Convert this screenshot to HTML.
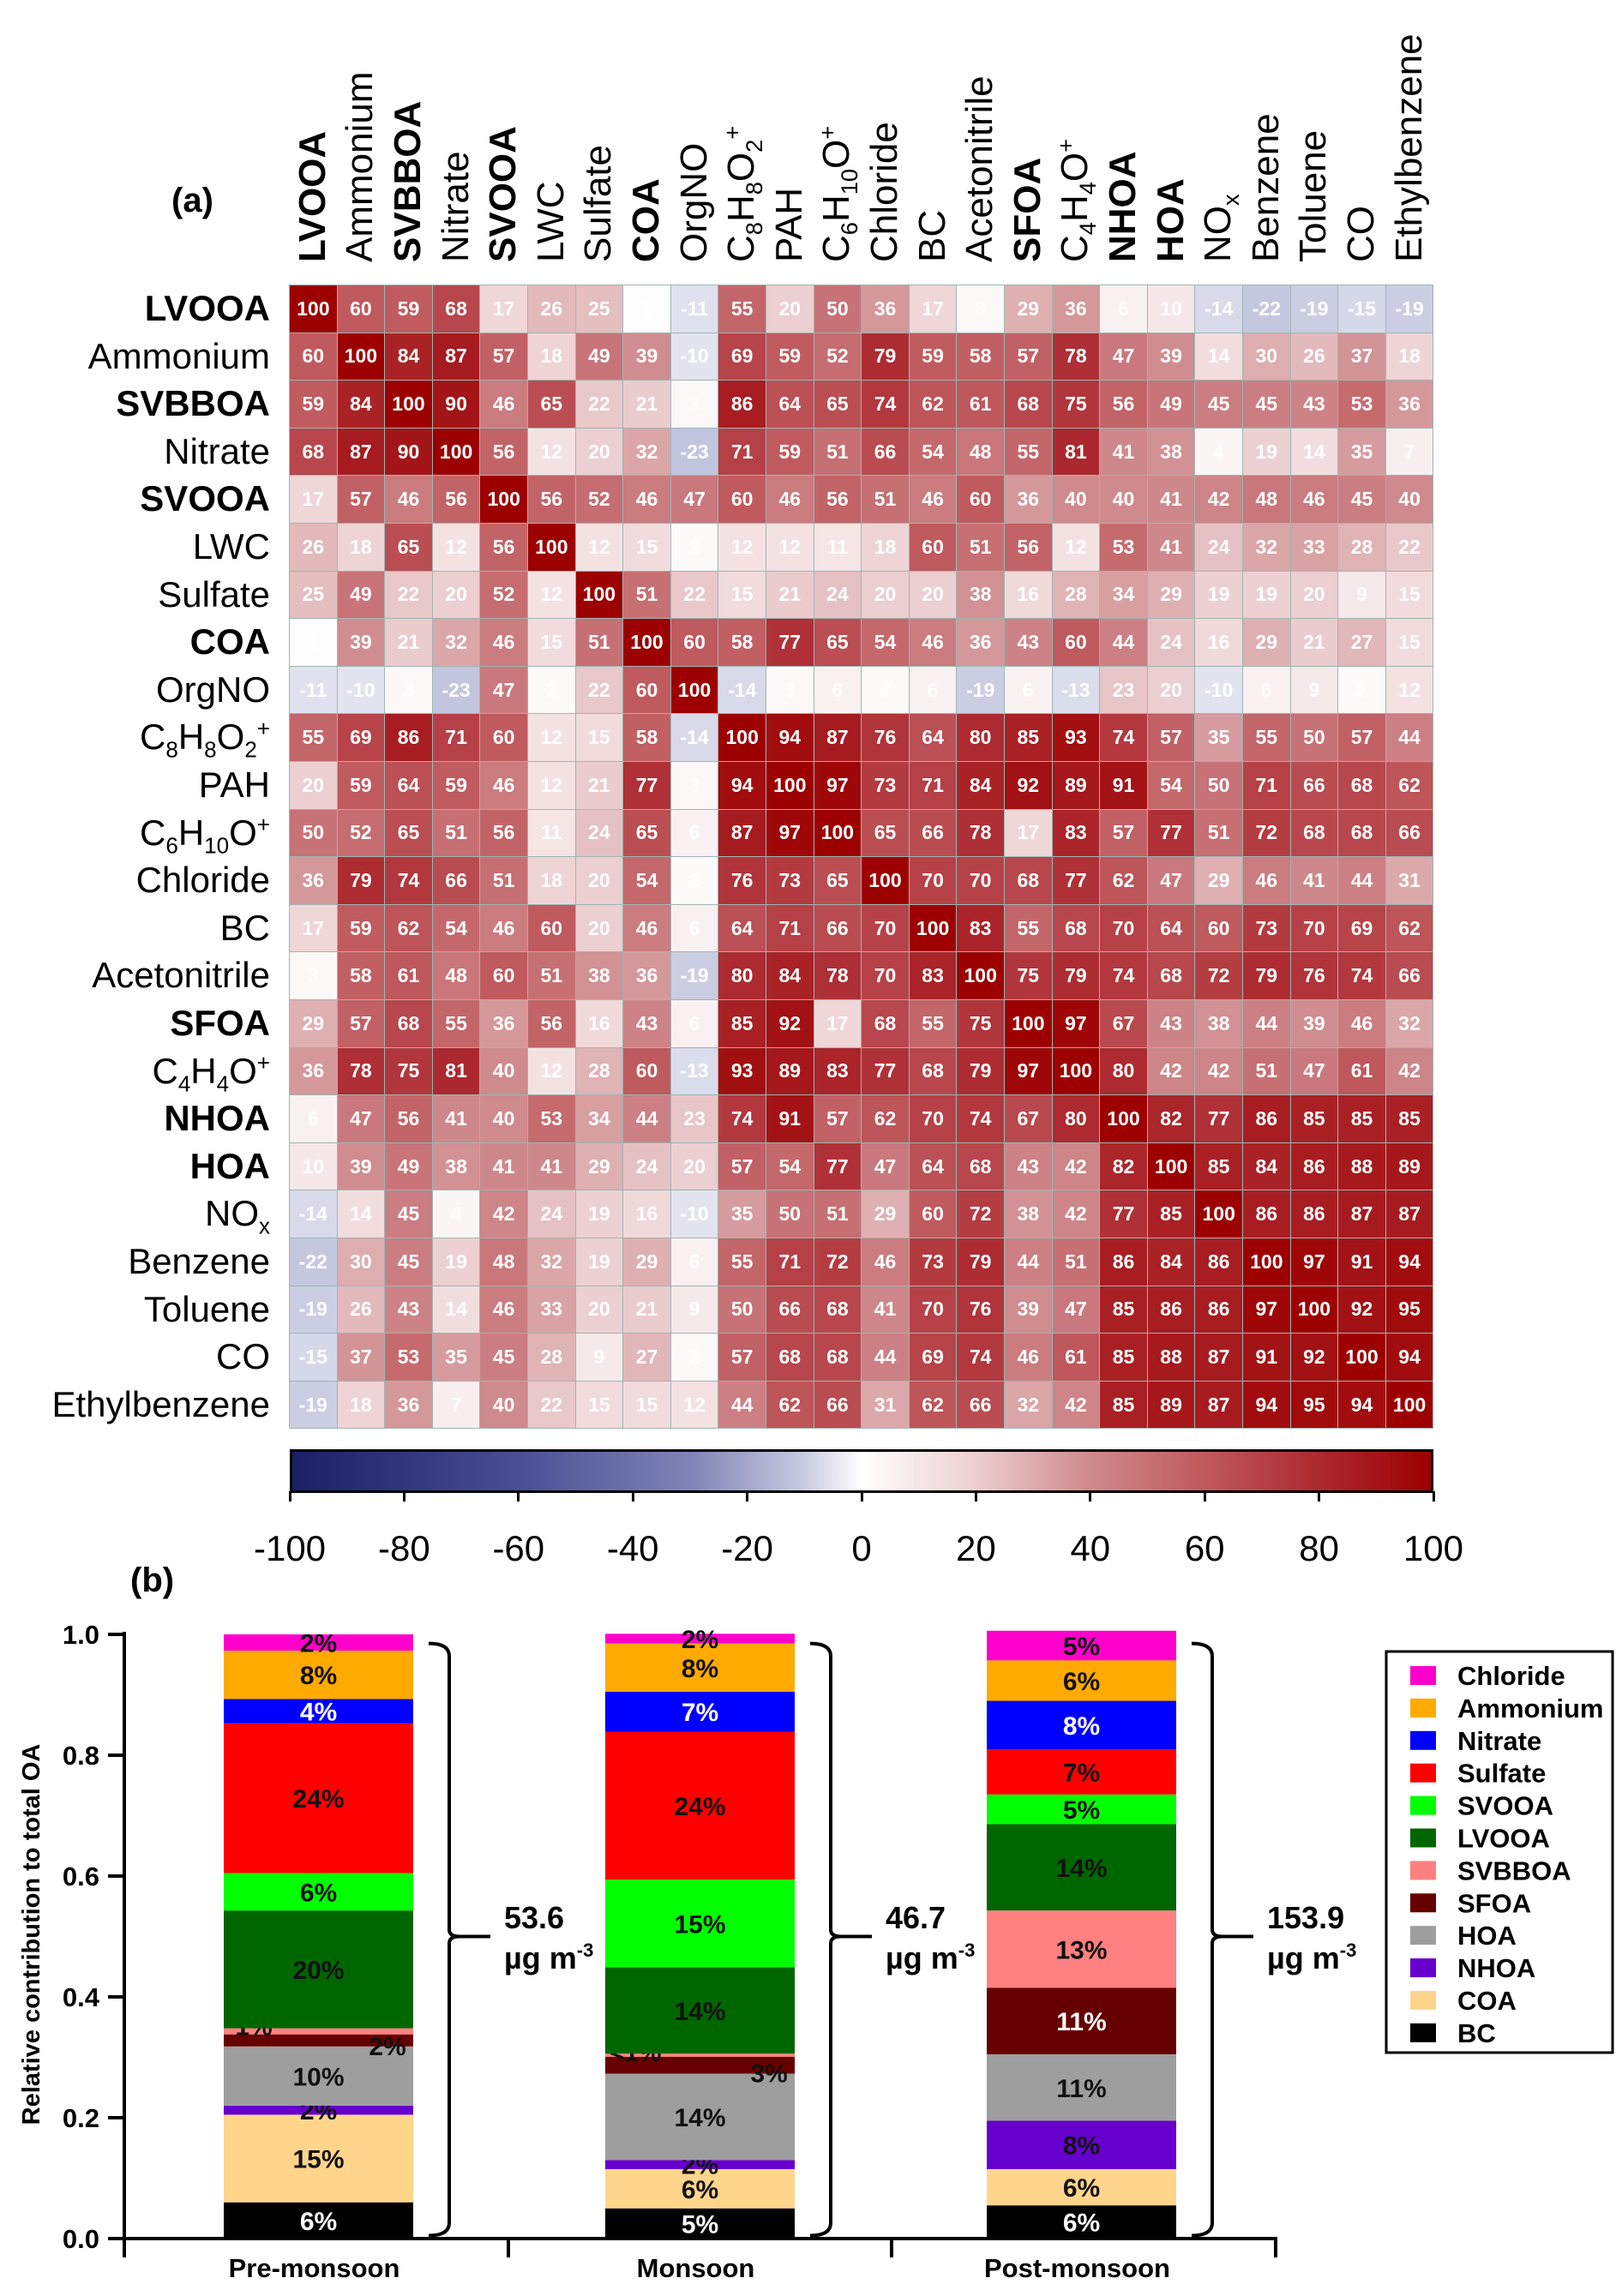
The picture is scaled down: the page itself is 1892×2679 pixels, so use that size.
<!DOCTYPE html>
<html><head><meta charset="utf-8">
<style>
html,body{margin:0;padding:0;background:#fff;}
body{width:1892px;height:2679px;position:relative;overflow:hidden;font-family:"Liberation Sans",Arial,sans-serif;}
.abs{position:absolute;}
.rowlab{position:absolute;right:1577px;font-size:42px;line-height:56px;white-space:nowrap;color:#000;text-align:right;}
.collab{position:absolute;font-size:44px;white-space:nowrap;color:#000;transform-origin:0 0;transform:rotate(-90deg);line-height:50px;}
.b{font-weight:bold;}
.cell{position:absolute;box-sizing:border-box;border:1.5px solid #9fb5b2;color:#fff;font-weight:bold;font-size:23px;display:flex;align-items:center;justify-content:center;font-family:"Liberation Sans Narrow","Liberation Sans",sans-serif;}
sub,sup{font-size:62%;line-height:0;}
</style></head>
<body>
<div class="abs b" style="left:200px;top:212px;font-size:40px;">(a)</div>
<div id="hm"></div>
<div class="abs" style="left:338px;top:1691px;width:1334px;height:51px;box-sizing:border-box;border:3px solid #000;background:linear-gradient(to right,#1a1f66 0%,#4a4f94 20%,#8084b6 35%,#c9cbe0 45%,#ffffff 50%,#eccfd0 60%,#cf8a8d 70%,#bf5a5e 80%,#ac2a30 90%,#9c0000 100%);"></div>
<div id="cbt"></div>
<div class="abs b" style="left:152px;top:1822px;font-size:40px;">(b)</div>
<svg id="bars" class="abs" style="left:0;top:0" width="1892" height="2679"></svg>
<script>
const vars=["LVOOA","Ammonium","SVBBOA","Nitrate","SVOOA","LWC","Sulfate","COA","OrgNO","C<sub>8</sub>H<sub>8</sub>O<sub>2</sub><sup>+</sup>","PAH","C<sub>6</sub>H<sub>10</sub>O<sup>+</sup>","Chloride","BC","Acetonitrile","SFOA","C<sub>4</sub>H<sub>4</sub>O<sup>+</sup>","NHOA","HOA","NO<sub>x</sub>","Benzene","Toluene","CO","Ethylbenzene"];
const boldVars=["LVOOA","SVBBOA","SVOOA","COA","SFOA","NHOA","HOA"];
const corr=[
[100,60,59,68,17,26,25,1,-11,55,20,50,36,17,3,29,36,6,10,-14,-22,-19,-15,-19],
[60,100,84,87,57,18,49,39,-10,69,59,52,79,59,58,57,78,47,39,14,30,26,37,18],
[59,84,100,90,46,65,22,21,3,86,64,65,74,62,61,68,75,56,49,45,45,43,53,36],
[68,87,90,100,56,12,20,32,-23,71,59,51,66,54,48,55,81,41,38,4,19,14,35,7],
[17,57,46,56,100,56,52,46,47,60,46,56,51,46,60,36,40,40,41,42,48,46,45,40],
[26,18,65,12,56,100,12,15,2,12,12,11,18,60,51,56,12,53,41,24,32,33,28,22],
[25,49,22,20,52,12,100,51,22,15,21,24,20,20,38,16,28,34,29,19,19,20,9,15],
[1,39,21,32,46,15,51,100,60,58,77,65,54,46,36,43,60,44,24,16,29,21,27,15],
[-11,-10,3,-23,47,2,22,60,100,-14,3,6,2,6,-19,6,-13,23,20,-10,6,9,2,12],
[55,69,86,71,60,12,15,58,-14,100,94,87,76,64,80,85,93,74,57,35,55,50,57,44],
[20,59,64,59,46,12,21,77,3,94,100,97,73,71,84,92,89,91,54,50,71,66,68,62],
[50,52,65,51,56,11,24,65,6,87,97,100,65,66,78,17,83,57,77,51,72,68,68,66],
[36,79,74,66,51,18,20,54,2,76,73,65,100,70,70,68,77,62,47,29,46,41,44,31],
[17,59,62,54,46,60,20,46,6,64,71,66,70,100,83,55,68,70,64,60,73,70,69,62],
[3,58,61,48,60,51,38,36,-19,80,84,78,70,83,100,75,79,74,68,72,79,76,74,66],
[29,57,68,55,36,56,16,43,6,85,92,17,68,55,75,100,97,67,43,38,44,39,46,32],
[36,78,75,81,40,12,28,60,-13,93,89,83,77,68,79,97,100,80,42,42,51,47,61,42],
[6,47,56,41,40,53,34,44,23,74,91,57,62,70,74,67,80,100,82,77,86,85,85,85],
[10,39,49,38,41,41,29,24,20,57,54,77,47,64,68,43,42,82,100,85,84,86,88,89],
[-14,14,45,4,42,24,19,16,-10,35,50,51,29,60,72,38,42,77,85,100,86,86,87,87],
[-22,30,45,19,48,32,19,29,6,55,71,72,46,73,79,44,51,86,84,86,100,97,91,94],
[-19,26,43,14,46,33,20,21,9,50,66,68,41,70,76,39,47,85,86,86,97,100,92,95],
[-15,37,53,35,45,28,9,27,2,57,68,68,44,69,74,46,61,85,88,87,91,92,100,94],
[-19,18,36,7,40,22,15,15,12,44,62,66,31,62,66,32,42,85,89,87,94,95,94,100]];
const cbTicks=[-100,-80,-60,-40,-20,0,20,40,60,80,100];

const HX0=337,HY0=332,CW=55.6,CH=55.6;
const stops=[[-100,[26,31,102]],[-60,[74,79,148]],[-30,[178,182,212]],[-20,[200,204,226]],[-10,[226,228,239]],[0,[255,255,255]],[20,[236,207,208]],[40,[207,138,141]],[60,[191,90,94]],[80,[172,42,48]],[100,[156,0,0]]];
function col(v){for(let i=0;i<stops.length-1;i++){const a=stops[i],b=stops[i+1];if(v<=b[0]){const t=(v-a[0])/(b[0]-a[0]);const c=a[1].map((x,k)=>Math.round(x+(b[1][k]-x)*t));return `rgb(${c})`;}}return 'rgb(156,0,0)';}
const hm=document.getElementById('hm');
vars.forEach((n,i)=>{
  const plain=n.replace(/<[^>]+>/g,'');
  const r=document.createElement('div');r.className='rowlab'+(boldVars.includes(plain)?' b':'');
  r.style.top=(HY0+i*CH)+'px';r.innerHTML=n;
  
  
  hm.appendChild(r);
  const c=document.createElement('div');c.className='collab'+(boldVars.includes(plain)?' b':'');
  c.style.left=(HX0+i*CW+CW/2-25)+'px';c.style.top='306px';c.innerHTML=n;
  
  
  hm.appendChild(c);
});
corr.forEach((row,i)=>row.forEach((v,j)=>{
  const d=document.createElement('div');d.className='cell';
  d.style.left=(HX0+j*CW)+'px';d.style.top=(HY0+i*CH)+'px';d.style.width=(CW+1)+'px';d.style.height=(CH+1)+'px';
  d.style.background=col(v);d.textContent=v;
  
  
  hm.appendChild(d);
}));
const cbt=document.getElementById('cbt');
cbTicks.forEach(t=>{
  const x=338+(t+100)/200*1334;
  const tk=document.createElement('div');tk.className='abs';tk.style.cssText=`left:${x-1.5}px;top:1740px;width:3px;height:12px;background:#000;`;
  
  
  cbt.appendChild(tk);
  const l=document.createElement('div');l.className='abs';l.style.cssText=`left:${x-60}px;width:120px;text-align:center;top:1783px;font-size:42px;`;l.textContent=t;
  
  
  cbt.appendChild(l);
});
</script>
<script>
const seasons=["Pre-monsoon","Monsoon","Post-monsoon"];
const totals=["53.6","46.7","153.9"];
const components=["BC","COA","NHOA","HOA","SFOA","SVBBOA","LVOOA","SVOOA","Sulfate","Nitrate","Ammonium","Chloride"];
const compColors=["#000000","#ffd58c","#6600cc","#9e9e9e","#660000","#ff8080","#006600","#00ff00","#ff0000","#0000ff","#ffaa00","#ff00cc"];
const preVals=[6,14.5,1.5,9.8,2,1,19.5,6.2,24.8,4,8,2.7];
const monVals=[5,6.5,1.5,14.3,2.8,0.5,14.3,14.5,24.5,6.6,8,1.6];
const postVals=[5.5,6,8,11,11,12.8,14.3,4.9,7.5,8,6.7,4.9];
const preLabels=["6%","15%","2%","10%","2%","1%","20%","6%","24%","4%","8%","2%"];
const monLabels=["5%","6%","2%","14%","3%","<1%","14%","15%","24%","7%","8%","2%"];
const postLabels=["6%","6%","8%","11%","11%","13%","14%","5%","7%","8%","6%","5%"];
const yTicks=[0,0.2,0.4,0.6,0.8,1.0];
const allVals=[preVals,monVals,postVals],allLabels=[preLabels,monLabels,postLabels];
const legendOrder=["Chloride","Ammonium","Nitrate","Sulfate","SVOOA","LVOOA","SVBBOA","SFOA","HOA","NHOA","COA","BC"];

const svg=document.getElementById('bars');const NS='http://www.w3.org/2000/svg';
const Y0=2612,Y1=1907;const yS=v=>Y0-(v)*(Y0-Y1);
const barX=[261,706,1151],BW=221;
function el(t,a,txt){const e=document.createElementNS(NS,t);for(const k in a)e.setAttribute(k,a[k]);if(txt!=null)e.textContent=txt;svg.appendChild(e);return e;}
const F='"Liberation Sans Narrow","Liberation Sans",sans-serif';
let ax=el('line',{x1:145,y1:Y1-3,x2:145,y2:Y0+2,stroke:'#000','stroke-width':4});


let xa=el('line',{x1:143,y1:Y0,x2:1490,y2:Y0,stroke:'#000','stroke-width':4});


[145,593,1040,1488].forEach(x=>{let t=el('line',{x1:x,y1:Y0,x2:x,y2:Y0+22,stroke:'#000','stroke-width':4});

});
yTicks.forEach(v=>{const y=yS(v);
 let t=el('line',{x1:126,y1:y,x2:145,y2:y,stroke:'#000','stroke-width':4});
 
 
 let l=el('text',{x:116,y:y+11,'text-anchor':'end','font-size':31,'font-weight':'bold','font-family':F},v.toFixed(1));
 
 });
let yt=el('text',{x:0,y:0,transform:'translate(46,2257) rotate(-90)','text-anchor':'middle','font-size':29,'font-weight':'bold','font-family':'"Liberation Sans",sans-serif'},'Relative contribution to total OA');


const whiteTxt=["BC","SFOA","Nitrate"];
allVals.forEach((vals,s)=>{
 let cum=0;const x=barX[s];
 vals.forEach((v,k)=>{
  const yb=yS(cum/100),yt2=yS((cum+v)/100);
  let r=el('rect',{x:x,y:yt2,width:BW,height:yb-yt2,fill:compColors[k]});
  
  
  const small=(components[k]==="SFOA"||components[k]==="SVBBOA")&&v<4;
  let tx=x+BW/2,ty=(yb+yt2)/2+11;
  if(small){tx=components[k]==="SVBBOA"?x+35:x+BW-30;ty=components[k]==="SVBBOA"?yt2+8:yb+10;}
  let l=el('text',{x:tx,y:ty,'text-anchor':'middle','font-size':30,'font-weight':'bold','font-family':F,fill:(whiteTxt.includes(components[k])&&!small)?'#fff':'#111'},allLabels[s][k]);
  
  
  cum+=v;
 });
 const bx=x+BW+10;
 const top=yS(0.985),bot=yS(0.005),mid=yS(0.5);
 let p=el('path',{d:`M${bx+8},${top} Q${bx+32},${top} ${bx+32},${top+15} L${bx+32},${mid-8} Q${bx+32},${mid} ${bx+44},${mid} L${bx+80},${mid} M${bx+44},${mid} Q${bx+32},${mid} ${bx+32},${mid+8} L${bx+32},${bot-15} Q${bx+32},${bot} ${bx+8},${bot}`,fill:'none',stroke:'#000','stroke-width':4});
 
 
 let t1=el('text',{x:bx+96,y:2250,'font-size':36,'font-weight':'bold','font-family':F},totals[s]);
 
 
 let t2=el('text',{x:bx+96,y:2297,'font-size':36,'font-weight':'bold','font-family':F});
 t2.innerHTML='µg m<tspan dy="-14" font-size="22">-3</tspan>';
 
 
 let cl=el('text',{x:x+BW/2-5,y:2657,'text-anchor':'middle','font-size':31,'font-weight':'bold','font-family':F},seasons[s]);
 
 
});
let lb=el('rect',{x:1617,y:1927,width:264,height:468,fill:'#fff',stroke:'#000','stroke-width':3});


legendOrder.forEach((n,i)=>{const y=1955+i*37.9;const k=components.indexOf(n);
 let sw=el('rect',{x:1645,y:y-11,width:30,height:22,fill:compColors[k]});
 
 
 let t=el('text',{x:1700,y:y+11,'font-size':31,'font-weight':'bold','font-family':F},n);
 
 });
</script>
</body></html>
